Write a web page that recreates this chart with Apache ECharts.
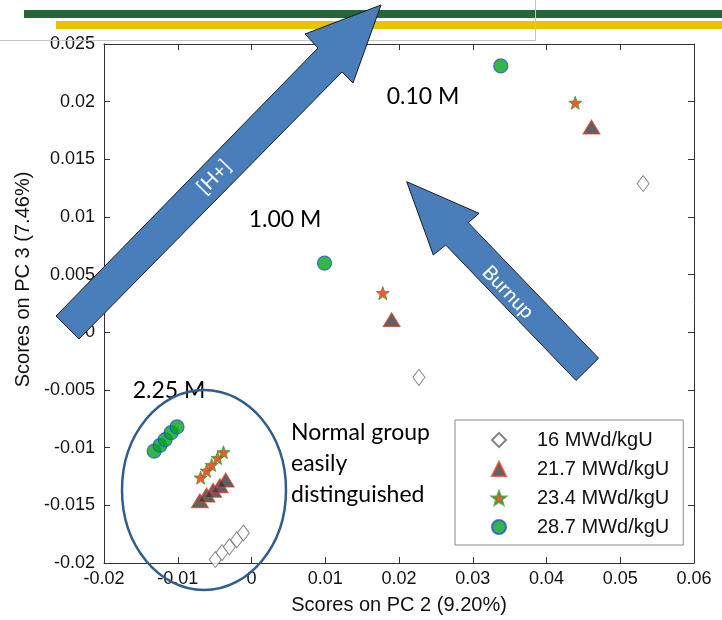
<!DOCTYPE html>
<html lang="en">
<head>
<meta charset="UTF-8">
<title>PCA scores by burnup</title>
<script src="https://cdn.jsdelivr.net/npm/echarts@6.0.0/dist/echarts.min.js"></script>
<style>
  html, body { margin: 0; padding: 0; background: #fff; }
  #chart { width: 722px; height: 620px; }
</style>
</head>
<body>
<div id="chart"></div>
<script>
// legend names (burnup)
const seriesNames = ['16 MWd/kgU', '21.7 MWd/kgU', '23.4 MWd/kgU', '28.7 MWd/kgU'];

// scores: five points of the 2.25 M group, then 1.00 M, then 0.10 M
const pc2_16 = [-0.0049, -0.0040, -0.0030, -0.0020, -0.0011, 0.0227, 0.0531];
const pc3_16 = [-0.0197, -0.0191, -0.0186, -0.0180, -0.0174, -0.0039, 0.0129];

const pc2_217 = [-0.0070, -0.0061, -0.0052, -0.0043, -0.0035, 0.0190, 0.0461];
const pc3_217 = [-0.0146, -0.0141, -0.0137, -0.0133, -0.0128, 0.0011, 0.0178];

const pc2_234 = [-0.0069, -0.0061, -0.0054, -0.0046, -0.0038, 0.0178, 0.0439];
const pc3_234 = [-0.0126, -0.0120, -0.0115, -0.0109, -0.0104, 0.0034, 0.0199];

const pc2_287 = [-0.0132, -0.0124, -0.0117, -0.0109, -0.0101, 0.0099, 0.0338];
const pc3_287 = [-0.0103, -0.0098, -0.0093, -0.0087, -0.0082, 0.0060, 0.0231];

// axes
const xTicks = ['-0.02', '-0.01', '0', '0.01', '0.02', '0.03', '0.04', '0.05', '0.06'];
const yTicks = ['-0.02', '-0.015', '-0.01', '-0.005', '0', '0.005', '0.01', '0.015', '0.02', '0.025'];
const xMin = -0.02, xMax = 0.06, xStep = 0.01;
const yMin = -0.02, yMax = 0.025, yStep = 0.005;

const axisColor = '#333';
const tickFont = 'Liberation Sans, Arial, sans-serif';
const noteFont = 'Lato, Carlito, sans-serif';

function zip(xs, ys) {
    return xs.map((x, i) => [x, ys[i]]);
}

// five-pointed star symbol
function starPath() {
    let d = '';
    for (let i = 0; i < 10; i++) {
        const r = i % 2 ? 4.2 : 10;
        const a = -Math.PI / 2 + i * Math.PI / 5;
        d += (i ? 'L' : 'M') + (r * Math.cos(a)).toFixed(2) + ',' + (r * Math.sin(a)).toFixed(2);
    }
    return 'path://' + d + 'Z';
}

function valueAxis(pos, isX) {
    const ticks = isX ? xTicks : yTicks;
    const min = isX ? xMin : yMin;
    const step = isX ? xStep : yStep;
    const main = pos === 'bottom' || pos === 'left';
    return {
        type: 'value',
        position: pos,
        min: min,
        max: isX ? xMax : yMax,
        interval: step,
        axisLine: { show: true, onZero: false, lineStyle: { color: axisColor, width: 1 } },
        axisTick: { show: true, inside: true, length: 6, lineStyle: { color: axisColor } },
        axisLabel: {
            show: main,
            formatter: v => ticks[Math.round((v - min) / step)],
            fontFamily: tickFont,
            fontSize: 18,
            color: '#111',
            margin: isX ? 7 : 9
        },
        splitLine: { show: false }
    };
}

const xBottom = valueAxis('bottom', true);
xBottom.name = 'Scores on PC 2 (9.20%)';
xBottom.nameLocation = 'middle';
xBottom.nameGap = 32;
xBottom.nameTextStyle = { fontFamily: tickFont, fontSize: 20, color: '#111' };

const yLeft = valueAxis('left', false);
yLeft.name = 'Scores on PC 3 (7.46%)';
yLeft.nameLocation = 'middle';
yLeft.nameGap = 66;
yLeft.nameTextStyle = { fontFamily: tickFont, fontSize: 20, color: '#111', padding: [0, 0, 0, 48] };

const arrowStyle = { fill: '#4a7ebb', stroke: '#1b1b1b', lineWidth: 1 };

const chart = echarts.init(document.getElementById('chart'));
chart.setOption({
    animation: false,
    grid: { left: 104, right: 28, top: 44, bottom: 57 },
    xAxis: [xBottom, valueAxis('top', true)],
    yAxis: [yLeft, valueAxis('right', false)],
    legend: {
        orient: 'vertical',
        left: 455,
        top: 420,
        padding: [10, 14, 8, 36],
        itemWidth: 14,
        itemHeight: 14,
        itemGap: 9,
        backgroundColor: '#fff',
        borderColor: '#8a8a8a',
        borderWidth: 1,
        borderRadius: 0,
        textStyle: { fontFamily: tickFont, fontSize: 20, lineHeight: 20, color: '#111', padding: [0, 0, 0, 26] },
        data: seriesNames
    },
    series: [
        {
            name: seriesNames[0], type: 'scatter', data: zip(pc2_16, pc3_16),
            symbol: 'diamond', symbolSize: [12, 16],
            itemStyle: { color: '#fff', borderColor: '#666', borderWidth: 1 }
        },
        {
            name: seriesNames[1], type: 'scatter', data: zip(pc2_217, pc3_217),
            symbol: 'triangle', symbolSize: [17, 14],
            itemStyle: { color: '#3a3a3a', borderColor: '#e8402a', borderWidth: 1 }
        },
        {
            name: seriesNames[2], type: 'scatter', data: zip(pc2_234, pc3_234),
            symbol: starPath(), symbolSize: 13,
            itemStyle: { color: '#ff2a00', borderColor: '#2fa02f', borderWidth: 1 }
        },
        {
            name: seriesNames[3], type: 'scatter', data: zip(pc2_287, pc3_287),
            symbol: 'circle', symbolSize: 14,
            itemStyle: { color: '#00a51c', borderColor: '#2a50d0', borderWidth: 1.2 }
        }
    ],
    graphic: [
        // slide decoration at the top
        { type: 'rect', shape: { x: 24, y: 10, width: 698, height: 8 }, style: { fill: '#22693a' }, z: 50 },
        { type: 'rect', shape: { x: 56, y: 21, width: 666, height: 8 }, style: { fill: '#eac300' }, z: 50 },
        { type: 'line', shape: { x1: 0, y1: 40.5, x2: 535.5, y2: 40.5 }, style: { stroke: '#c4c4c4', lineWidth: 1 }, z: 50 },
        { type: 'line', shape: { x1: 535.5, y1: 0, x2: 535.5, y2: 40.5 }, style: { stroke: '#c4c4c4', lineWidth: 1 }, z: 50 },
        // [H+] arrow
        {
            type: 'polygon', z: 100,
            shape: { points: [[56, 316], [318, 48], [305, 34], [381, 5], [353, 83], [342, 72], [79, 339]] },
            style: arrowStyle
        },
        {
            type: 'text', z: 101, x: 214, y: 177, rotation: 0.794,
            style: { text: '[H+]', fill: '#fff', font: '20px ' + noteFont, align: 'center', verticalAlign: 'middle' }
        },
        // Burnup arrow
        {
            type: 'polygon', z: 100,
            shape: { points: [[406.7, 181.7], [479, 213.3], [468.3, 222.7], [598.6, 358.2], [576, 380.5], [445.7, 245], [433.3, 255]] },
            style: arrowStyle
        },
        {
            type: 'text', z: 101, x: 508, y: 292, rotation: -0.805,
            style: { text: 'Burnup', fill: '#fff', font: '20px ' + noteFont, align: 'center', verticalAlign: 'middle' }
        },
        // concentration notes
        { type: 'text', z: 90, x: 423, y: 97, style: { text: '0.10 M', fill: '#000', font: '23px ' + noteFont, align: 'center', verticalAlign: 'middle' } },
        { type: 'text', z: 90, x: 285, y: 220, style: { text: '1.00 M', fill: '#000', font: '23px ' + noteFont, align: 'center', verticalAlign: 'middle' } },
        { type: 'text', z: 90, x: 169, y: 391, style: { text: '2.25 M', fill: '#000', font: '23px ' + noteFont, align: 'center', verticalAlign: 'middle' } },
        {
            type: 'text', z: 90, x: 291, y: 417,
            style: { text: 'Normal group\neasily\ndistinguished', fill: '#000', font: '23px ' + noteFont, lineHeight: 31, align: 'left', verticalAlign: 'top' }
        },
        // group outline
        {
            type: 'ellipse', z: 95,
            shape: { cx: 204, cy: 490, rx: 82, ry: 100 },
            style: { fill: null, stroke: '#2f5e8e', lineWidth: 2.5 }
        }
    ]
});
</script>
</body>
</html>
